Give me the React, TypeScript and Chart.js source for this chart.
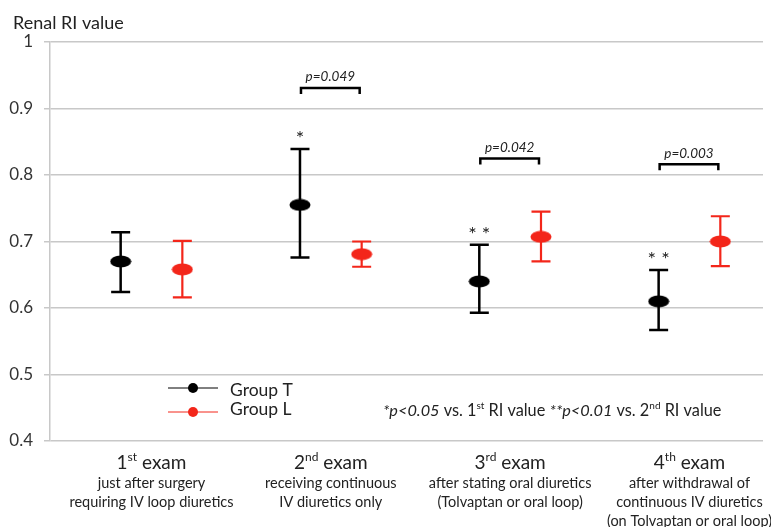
import React, { useEffect, useRef } from "react";
import { Chart, registerables } from "chart.js";
Chart.register(...registerables);

// ---------- data ----------
const examNumbers = ["1", "2", "3", "4"];
const examSuffixes = ["st", "nd", "rd", "th"];
const examDescriptions = [
  ["just after surgery", "requiring IV loop diuretics"],
  ["receiving continuous", "IV diuretics only"],
  ["after stating oral diuretics", "(Tolvaptan or oral loop)"],
  ["after withdrawal of", "continuous IV diuretics", "(on Tolvaptan or oral loop)"],
];
const categoryPositions = [1, 2, 3, 4];
const groupOffset = 0.172;

const groupTMean = [0.67, 0.755, 0.64, 0.61];
const groupTUpper = [0.714, 0.839, 0.695, 0.657];
const groupTLower = [0.624, 0.676, 0.593, 0.567];

const groupLMean = [0.658, 0.681, 0.707, 0.7];
const groupLUpper = [0.701, 0.7, 0.745, 0.738];
const groupLLower = [0.616, 0.662, 0.67, 0.663];

const groupTMarks = ["", "*", "**", "**"];
const pValueLabels = ["", "p=0.049", "p=0.042", "p=0.003"];
const bracketLevels: (number | null)[] = [null, 0.931, 0.825, 0.816];

const yTicks = [0.4, 0.5, 0.6, 0.7, 0.8, 0.9, 1];
const yTitle = "Renal RI value";
const seriesNames = ["Group T", "Group L"];

const BLACK = "#000000";
const RED = "#f3261a";
const GRID = "#c8c8c8";
const FONT = "Lato, 'Open Sans', sans-serif";

type Seg = { t: string; i?: boolean; sup?: boolean };

function segFont(size: number, s: Seg) {
  const sz = s.sup ? Math.round(size * 0.62) : size;
  return `${s.i ? "italic " : ""}${sz}px ${FONT}`;
}

function drawRich(ctx: CanvasRenderingContext2D, segs: Seg[], x: number, y: number, size: number, align: "left" | "center", color: string) {
  ctx.save();
  ctx.textBaseline = "middle";
  ctx.textAlign = "left";
  ctx.fillStyle = color;
  let total = 0;
  for (const s of segs) {
    ctx.font = segFont(size, s);
    total += ctx.measureText(s.t).width;
  }
  let cx = align === "center" ? x - total / 2 : x;
  for (const s of segs) {
    ctx.font = segFont(size, s);
    ctx.fillText(s.t, cx, s.sup ? y - size * 0.33 : y);
    cx += ctx.measureText(s.t).width;
  }
  ctx.restore();
}

function ellipseMarker(color: string) {
  const c = document.createElement("canvas");
  c.width = 22;
  c.height = 13;
  const g = c.getContext("2d")!;
  g.fillStyle = color;
  g.beginPath();
  g.ellipse(11, 6.5, 10.5, 6, 0, 0, Math.PI * 2);
  g.fill();
  return c;
}

const overlay = {
  id: "overlay",
  beforeDatasetsDraw(chart: any) {
    const ctx: CanvasRenderingContext2D = chart.ctx;
    const xs = chart.scales.x;
    const ys = chart.scales.y;
    const sets = [
      { upper: groupTUpper, lower: groupTLower, off: -groupOffset, color: BLACK, w: 2.5 },
      { upper: groupLUpper, lower: groupLLower, off: groupOffset, color: RED, w: 2.2 },
    ];
    ctx.save();
    for (const s of sets) {
      ctx.strokeStyle = s.color;
      ctx.lineWidth = s.w;
      categoryPositions.forEach((p, i) => {
        const x = xs.getPixelForValue(p + s.off);
        const yu = ys.getPixelForValue(s.upper[i]);
        const yl = ys.getPixelForValue(s.lower[i]);
        ctx.beginPath();
        ctx.moveTo(x, yu);
        ctx.lineTo(x, yl);
        ctx.moveTo(x - 9.5, yu);
        ctx.lineTo(x + 9.5, yu);
        ctx.moveTo(x - 9.5, yl);
        ctx.lineTo(x + 9.5, yl);
        ctx.stroke();
      });
    }
    ctx.restore();
  },
  afterDatasetsDraw(chart: any) {
    const ctx: CanvasRenderingContext2D = chart.ctx;
    const xs = chart.scales.x;
    const ys = chart.scales.y;
    const area = chart.chartArea;

    // title
    ctx.save();
    ctx.fillStyle = "#222";
    ctx.font = `18px ${FONT}`;
    ctx.textBaseline = "middle";
    ctx.fillText(yTitle, 13, 23);
    ctx.restore();

    // significance marks
    ctx.save();
    ctx.fillStyle = "#222";
    ctx.font = `20px ${FONT}`;
    ctx.textAlign = "center";
    ctx.textBaseline = "alphabetic";
    categoryPositions.forEach((p, i) => {
      if (!groupTMarks[i]) return;
      const x = xs.getPixelForValue(p - groupOffset);
      const y = ys.getPixelForValue(groupTUpper[i]) - 4;
      ctx.fillText(groupTMarks[i].split("").join(" "), x, y);
    });
    ctx.restore();

    // brackets
    ctx.save();
    categoryPositions.forEach((p, i) => {
      const lvl = bracketLevels[i];
      if (lvl == null) return;
      const x1 = xs.getPixelForValue(p - groupOffset) + 1;
      const x2 = xs.getPixelForValue(p + groupOffset) - 2;
      const y = ys.getPixelForValue(lvl);
      ctx.strokeStyle = BLACK;
      ctx.lineWidth = 2.5;
      ctx.beginPath();
      ctx.moveTo(x1, y + 6);
      ctx.lineTo(x1, y);
      ctx.lineTo(x2, y);
      ctx.lineTo(x2, y + 6);
      ctx.stroke();
      ctx.fillStyle = "#222";
      ctx.font = `italic 13.5px ${FONT}`;
      ctx.textAlign = "center";
      ctx.textBaseline = "middle";
      ctx.fillText(pValueLabels[i], (x1 + x2) / 2, y - 11);
    });
    ctx.restore();

    // legend
    const legendItems = [
      { name: seriesNames[0], color: BLACK, ly: 388, ty: 390 },
      { name: seriesNames[1], color: RED, ly: 412, ty: 409 },
    ];
    ctx.save();
    for (const it of legendItems) {
      ctx.strokeStyle = it.color;
      ctx.lineWidth = 1;
      ctx.beginPath();
      ctx.moveTo(168, it.ly);
      ctx.lineTo(218, it.ly);
      ctx.stroke();
      ctx.fillStyle = it.color;
      ctx.beginPath();
      ctx.arc(193, it.ly, 5, 0, Math.PI * 2);
      ctx.fill();
      ctx.fillStyle = "#222";
      ctx.font = `17.5px ${FONT}`;
      ctx.textBaseline = "middle";
      ctx.fillText(it.name, 230, it.ty);
    }
    ctx.restore();

    // footnote
    drawRich(
      ctx,
      [
        { t: "*p<0.05", i: true },
        { t: " vs. 1" },
        { t: "st", sup: true },
        { t: " RI value " },
        { t: "**p<0.01", i: true },
        { t: " vs. 2" },
        { t: "nd", sup: true },
        { t: " RI value" },
      ],
      383,
      411,
      16.3,
      "left",
      "#222"
    );

    // category labels
    categoryPositions.forEach((p, i) => {
      const x = xs.getPixelForValue(p);
      drawRich(
        ctx,
        [{ t: examNumbers[i] }, { t: examSuffixes[i], sup: true }, { t: " exam" }],
        x,
        area.bottom + 22,
        19,
        "center",
        "#222"
      );
      ctx.save();
      ctx.fillStyle = "#222";
      ctx.font = `14.5px ${FONT}`;
      ctx.textAlign = "center";
      ctx.textBaseline = "middle";
      examDescriptions[i].forEach((line, k) => {
        ctx.fillText(line, x, area.bottom + 42 + k * 19);
      });
      ctx.restore();
    });
  },
};

export default function App() {
  const ref = useRef<HTMLCanvasElement | null>(null);
  useEffect(() => {
    if (!ref.current) return;
    const chart = new Chart(ref.current, {
      type: "scatter",
      data: {
        datasets: [
          {
            label: seriesNames[0],
            data: categoryPositions.map((p, i) => ({ x: p - groupOffset, y: groupTMean[i] })),
            pointStyle: ellipseMarker(BLACK) as any,
            backgroundColor: BLACK,
            borderColor: BLACK,
            showLine: false,
          },
          {
            label: seriesNames[1],
            data: categoryPositions.map((p, i) => ({ x: p + groupOffset, y: groupLMean[i] })),
            pointStyle: ellipseMarker(RED) as any,
            backgroundColor: RED,
            borderColor: RED,
            showLine: false,
          },
        ],
      },
      options: {
        animation: false,
        responsive: false,
        maintainAspectRatio: false,
        layout: { padding: { top: 42, right: 8, bottom: 86, left: 0 } },
        plugins: { legend: { display: false }, tooltip: { enabled: false } },
        scales: {
          x: { type: "linear", min: 0.434, max: 4.41, display: false },
          y: {
            min: 0.4,
            max: 1,
            afterFit: (s: any) => {
              s.width = 50;
            },
            afterBuildTicks: (s: any) => {
              s.ticks = yTicks.map((v) => ({ value: v }));
            },
            ticks: {
              callback: (v: any) => String(Number(Number(v).toFixed(1))),
              font: { family: FONT, size: 17 },
              color: "#333",
              padding: 11,
            },
            grid: { color: GRID, lineWidth: 1.5, tickLength: 6 },
            border: { color: GRID, width: 1.5 },
          },
        },
      },
      plugins: [overlay],
    });
    return () => chart.destroy();
  }, []);
  return (
    <div style={{ position: "fixed", left: 0, top: 0, width: 771, height: 527, background: "#fff" }}>
      <canvas ref={ref} width={771} height={527} style={{ display: "block" }} />
    </div>
  );
}
